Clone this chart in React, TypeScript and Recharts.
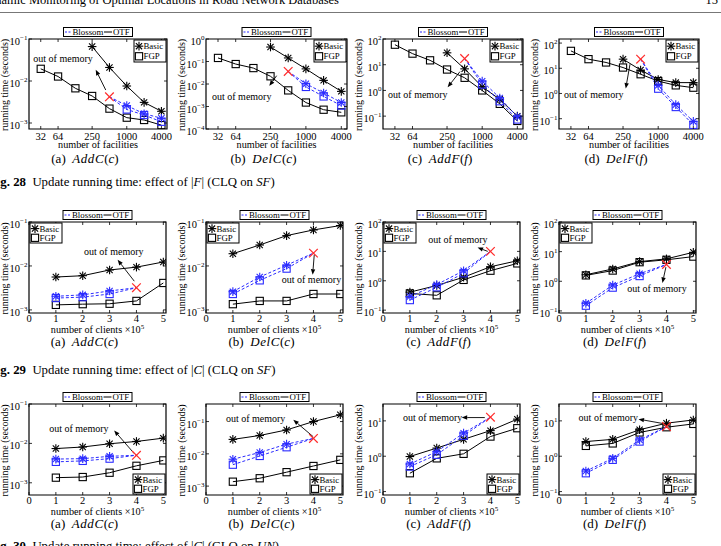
import React from 'react'
import { LineChart, Line, XAxis, YAxis, ReferenceArea, ReferenceLine, ReferenceDot } from 'recharts'

const SERIF = "'Liberation Serif', 'Times New Roman', serif"
const BLUE = '#2b2bff'
const RED = '#ff2a2a'

const FACILITIES = [32, 64, 128, 250, 500, 1000, 2000, 4000]
const FACILITY_TICKS = [32, 64, 250, 1000, 4000]
const CLIENTS = [1, 2, 3, 4, 5]
const CLIENT_TICKS = [0, 1, 2, 3, 4, 5]

type Val = number | null
const n = null

// Fig. 28: effect of |F| (SF)
const f28aBasicOtf: Val[] = [n, n, n, 0.066, 0.021, 0.0076, 0.0031, 0.0019]
const f28aFgpOtf: Val[] = [0.0195, 0.0128, 0.0067, 0.0044, 0.0022, 0.00134, 0.00118, 0.00089]
const f28aBasicBlossom: Val[] = [n, n, n, n, 0.0042, 0.0026, 0.00166, 0.0013]
const f28aFgpBlossom: Val[] = [n, n, n, n, 0.0042, 0.0021, 0.00155, 0.00107]

const f28bBasicOtf: Val[] = [n, n, n, 0.44, 0.144, 0.047, 0.0145, 0.0047]
const f28bFgpOtf: Val[] = [0.144, 0.077, 0.051, 0.022, 0.0052, 0.0015, 0.00072, 0.00055]
const f28bBasicBlossom: Val[] = [n, n, n, n, 0.036, 0.0103, 0.004, 0.0015]
const f28bFgpBlossom: Val[] = [n, n, n, n, 0.036, 0.0074, 0.0028, 0.0011]

const f28cBasicOtf: Val[] = [n, n, n, 29, 6.9, 1.38, 0.45, 0.1]
const f28cFgpOtf: Val[] = [60, 27, 14.8, 6.5, 3.1, 1.0, 0.3, 0.065]
const f28cBasicBlossom: Val[] = [n, n, n, n, 17.4, 2.3, 0.51, 0.095]
const f28cFgpBlossom: Val[] = [n, n, n, n, 17.4, 1.7, 0.38, 0.074]

const f28dBasicOtf: Val[] = [n, n, n, 23, 8.5, 3.6, 2.7, 2.7]
const f28dFgpOtf: Val[] = [49, 23, 17, 10.7, 5.8, 3.1, 2.1, 1.7]
const f28dBasicBlossom: Val[] = [n, n, n, n, 23, 2.1, 0.36, 0.078]
const f28dFgpBlossom: Val[] = [n, n, n, n, 23, 1.55, 0.29, 0.057]

// Fig. 29: effect of |C| (SF)
const f29aBasicOtf: Val[] = [0.0056, 0.006, 0.0081, 0.0094, 0.0123]
const f29aFgpOtf: Val[] = [0.0013, 0.00135, 0.00138, 0.0016, 0.0041]
const f29aBasicBlossom: Val[] = [0.00204, 0.0022, 0.0027, 0.0032, n]
const f29aFgpBlossom: Val[] = [0.00186, 0.00195, 0.0023, 0.0032, n]

const f29bBasicOtf: Val[] = [0.019, 0.03, 0.049, 0.066, 0.083]
const f29bFgpOtf: Val[] = [0.00135, 0.0016, 0.0016, 0.0023, 0.0023]
const f29bBasicBlossom: Val[] = [0.0026, 0.0056, 0.0104, 0.0196, n]
const f29bFgpBlossom: Val[] = [0.0023, 0.0047, 0.0087, 0.0196, n]

const f29cBasicOtf: Val[] = [0.41, 0.69, 1.32, 3.0, 4.8]
const f29cFgpOtf: Val[] = [0.37, 0.32, 1.07, 2.2, 3.9]
const f29cBasicBlossom: Val[] = [0.29, 0.74, 2.2, 10, n]
const f29cFgpBlossom: Val[] = [0.22, 0.6, 1.8, 10, n]

const f29dBasicOtf: Val[] = [1.66, 2.6, 4.6, 5.7, 9.5]
const f29dFgpOtf: Val[] = [1.58, 2.3, 4.4, 5.3, 6.8]
const f29dBasicBlossom: Val[] = [0.18, 0.74, 1.8, 3.7, n]
const f29dFgpBlossom: Val[] = [0.15, 0.61, 1.5, 3.7, n]

// Fig. 30: effect of |C| (UN)
const f30aBasicOtf: Val[] = [0.0074, 0.0081, 0.0098, 0.0112, 0.0136]
const f30aFgpOtf: Val[] = [0.00135, 0.0014, 0.0018, 0.0027, 0.0037]
const f30aBasicBlossom: Val[] = [0.004, 0.0041, 0.0047, 0.005, n]
const f30aFgpBlossom: Val[] = [0.0034, 0.0036, 0.0041, 0.005, n]

const f30bBasicOtf: Val[] = [0.028, 0.037, 0.055, 0.1, 0.162]
const f30bFgpOtf: Val[] = [0.00137, 0.00175, 0.0027, 0.0042, 0.0065]
const f30bBasicBlossom: Val[] = [0.0068, 0.011, 0.02, 0.03, n]
const f30bFgpBlossom: Val[] = [0.0046, 0.0086, 0.016, 0.03, n]

const f30cBasicOtf: Val[] = [0.98, 1.7, 3.0, 5.3, 11.2]
const f30cFgpOtf: Val[] = [0.33, 0.87, 1.17, 3.6, 6.2]
const f30cBasicBlossom: Val[] = [0.6, 1.35, 4.5, 12.7, n]
const f30cFgpBlossom: Val[] = [0.51, 1.1, 3.8, 12.7, n]

const f30dBasicOtf: Val[] = [2.6, 3.0, 5.6, 8.6, 10.6]
const f30dFgpOtf: Val[] = [1.96, 2.3, 4.7, 6.6, 8.2]
const f30dBasicBlossom: Val[] = [0.38, 0.87, 2.9, 6.9, n]
const f30dFgpBlossom: Val[] = [0.33, 0.79, 2.6, 6.9, n]

type Note = { tx: number; ty: number; from: [number, number]; to: [number, number] }

type Panel = {
  id: string
  box: [number, number, number, number] // plot area: left, top, width, height
  logX: boolean
  yDomain: [number, number]
  yTicks: number[]
  series: [Val[], Val[], Val[], Val[]] // basic OTF, FGP OTF, basic Blossom, FGP Blossom
  note: Note
  legend: 'tr' | 'tl' | 'br'
  tag: string
  op: string
  arg: string
}

const D3 = [1e-3, 1e-2, 1e-1]

const PANELS: Panel[] = [
  { id: '28a', box: [29, 39, 138, 90], logX: true, yDomain: [7.2e-4, 0.1], yTicks: D3,
    series: [f28aBasicOtf, f28aFgpOtf, f28aBasicBlossom, f28aFgpBlossom],
    note: { tx: 23.8, ty: 0.034, from: [431, 0.0061], to: [289, 0.0185] }, legend: 'tr', tag: '(a)', op: 'AddC', arg: 'c' },
  { id: '28b', box: [206, 39, 141, 90], logX: true, yDomain: [1e-4, 1], yTicks: [1e-4, 1e-3, 1e-2, 1e-1, 1],
    series: [f28bBasicOtf, f28bFgpOtf, f28bBasicBlossom, f28bFgpBlossom],
    note: { tx: 25.3, ty: 0.0028, from: [318, 0.0234], to: [239, 0.0083] }, legend: 'tr', tag: '(b)', op: 'DelC', arg: 'c' },
  { id: '28c', box: [383, 39, 140, 90], logX: true, yDomain: [0.0316, 100], yTicks: [0.1, 1, 10, 100],
    series: [f28cBasicOtf, f28cFgpOtf, f28cBasicBlossom, f28cFgpBlossom],
    note: { tx: 24.4, ty: 0.69, from: [417, 5.4], to: [256, 1.33] }, legend: 'tr', tag: '(c)', op: 'AddF', arg: 'f' },
  { id: '28d', box: [559, 39, 140, 90], logX: true, yDomain: [0.039, 145], yTicks: [0.1, 1, 10, 100],
    series: [f28dBasicOtf, f28dFgpOtf, f28dBasicBlossom, f28dFgpBlossom],
    note: { tx: 24.4, ty: 0.91, from: [329, 14.5], to: [278, 1.58] }, legend: 'tr', tag: '(d)', op: 'DelF', arg: 'f' },

  { id: '29a', box: [29, 222, 137, 91], logX: false, yDomain: [8.5e-4, 0.1], yTicks: D3,
    series: [f29aBasicOtf, f29aFgpOtf, f29aBasicBlossom, f29aFgpBlossom],
    note: { tx: 2.05, ty: 0.0213, from: [3.92, 0.0045], to: [3.3, 0.0138] }, legend: 'tl', tag: '(a)', op: 'AddC', arg: 'c' },
  { id: '29b', box: [206, 222, 137, 91], logX: false, yDomain: [8.5e-4, 0.1], yTicks: D3,
    series: [f29bBasicOtf, f29bFgpOtf, f29bBasicBlossom, f29bFgpBlossom],
    note: { tx: 2.82, ty: 0.0049, from: [4.03, 0.018], to: [3.97, 0.0063] }, legend: 'tl', tag: '(b)', op: 'DelC', arg: 'c' },
  { id: '29c', box: [383, 222, 137, 91], logX: false, yDomain: [0.08, 100], yTicks: [0.1, 1, 10, 100],
    series: [f29cBasicOtf, f29cFgpOtf, f29cBasicBlossom, f29cFgpBlossom],
    note: { tx: 1.68, ty: 24.7, from: [3.9, 10], to: [3.52, 13.5] }, legend: 'tl', tag: '(c)', op: 'AddF', arg: 'f' },
  { id: '29d', box: [559, 222, 137, 91], logX: false, yDomain: [0.085, 100], yTicks: [0.1, 1, 10, 100],
    series: [f29dBasicOtf, f29dFgpOtf, f29dBasicBlossom, f29dFgpBlossom],
    note: { tx: 2.54, ty: 0.57, from: [3.98, 3.0], to: [3.85, 0.88] }, legend: 'tl', tag: '(d)', op: 'DelF', arg: 'f' },

  { id: '30a', box: [29, 404, 137, 91], logX: false, yDomain: [4.9e-4, 0.1], yTicks: D3,
    series: [f30aBasicOtf, f30aFgpOtf, f30aBasicBlossom, f30aFgpBlossom],
    note: { tx: 0.75, ty: 0.0234, from: [3.92, 0.0055], to: [3.17, 0.0213] }, legend: 'br', tag: '(a)', op: 'AddC', arg: 'c' },
  { id: '30b', box: [206, 404, 137, 91], logX: false, yDomain: [5.3e-4, 0.35], yTicks: D3,
    series: [f30bBasicOtf, f30bFgpOtf, f30bBasicBlossom, f30bFgpBlossom],
    note: { tx: 0.74, ty: 0.127, from: [3.99, 0.034], to: [3.25, 0.113] }, legend: 'br', tag: '(b)', op: 'DelC', arg: 'c' },
  { id: '30c', box: [383, 404, 137, 91], logX: false, yDomain: [0.08, 30], yTicks: [0.1, 1, 10],
    series: [f30cBasicOtf, f30cFgpOtf, f30cBasicBlossom, f30cFgpBlossom],
    note: { tx: 0.74, ty: 12, from: [3.79, 12.4], to: [2.93, 12.4] }, legend: 'br', tag: '(c)', op: 'AddF', arg: 'f' },
  { id: '30d', box: [559, 404, 137, 91], logX: false, yDomain: [0.08, 30], yTicks: [0.1, 1, 10],
    series: [f30dBasicOtf, f30dFgpOtf, f30dBasicBlossom, f30dFgpBlossom],
    note: { tx: 0.73, ty: 12, from: [3.95, 8.2], to: [2.96, 11.2] }, legend: 'br', tag: '(d)', op: 'DelF', arg: 'f' },
]

const YW = 36
const MT = 6
const MR = 6
const XH = 20

function Star({ cx, cy, color }: { cx: number; cy: number; color: string }) {
  const r = 4.3
  const d = r * 0.72
  return (
    <g stroke={color} strokeWidth={1.1}>
      <line x1={cx - r} y1={cy} x2={cx + r} y2={cy} />
      <line x1={cx} y1={cy - r} x2={cx} y2={cy + r} />
      <line x1={cx - d} y1={cy - d} x2={cx + d} y2={cy + d} />
      <line x1={cx - d} y1={cy + d} x2={cx + d} y2={cy - d} />
    </g>
  )
}

function Square({ cx, cy, color }: { cx: number; cy: number; color: string }) {
  return <rect x={cx - 3.6} y={cy - 3.6} width={7.2} height={7.2} fill="none" stroke={color} strokeWidth={1.1} />
}

function Cross({ cx, cy }: { cx: number; cy: number }) {
  const r = 4.3
  return (
    <g stroke={RED} strokeWidth={1.2}>
      <line x1={cx - r} y1={cy - r} x2={cx + r} y2={cy + r} />
      <line x1={cx - r} y1={cy + r} x2={cx + r} y2={cy - r} />
    </g>
  )
}

const makeDot = (kind: 'star' | 'square' | 'cross', color: string, skipX?: number) => (d: any) => {
  const k = `m${d.index}`
  if (d.cx == null || d.cy == null || d.value == null || (skipX != null && d.payload?.x === skipX)) return <g key={k} />
  if (kind === 'star') return <Star key={k} cx={d.cx} cy={d.cy} color={color} />
  if (kind === 'square') return <Square key={k} cx={d.cx} cy={d.cy} color={color} />
  return <Cross key={k} cx={d.cx} cy={d.cy} />
}

function Arrow(props: any) {
  const { x1, y1, x2, y2 } = props
  const a = Math.atan2(y2 - y1, x2 - x1)
  const L = 5.5
  const W = 2.2
  const bx = x2 - L * Math.cos(a)
  const by = y2 - L * Math.sin(a)
  const pts = `${x2},${y2} ${bx - W * Math.sin(a)},${by + W * Math.cos(a)} ${bx + W * Math.sin(a)},${by - W * Math.cos(a)}`
  return (
    <g>
      <line x1={x1} y1={y1} x2={bx} y2={by} stroke="#000" strokeWidth={0.9} />
      <polygon points={pts} fill="#000" />
    </g>
  )
}

const supExp = (v: number) => {
  const e = Math.round(Math.log10(v))
  return e < 0 ? `\u2212${-e}` : `${e}`
}

function PanelChart({ p }: { p: Panel }) {
  const [left, top, w, h] = p.box
  const xs = p.logX ? FACILITIES : CLIENTS
  const oomAt = p.logX ? 500 : 4
  const [basicOtf, fgpOtf, basicBl, fgpBl] = p.series
  const data = xs.map((x, i) => ({
    x,
    basicOtf: basicOtf[i],
    fgpOtf: fgpOtf[i],
    basicBlossom: basicBl[i],
    fgpBlossom: fgpBl[i],
    oom: x === oomAt ? basicBl[i] : null,
  }))
  const xDomain: [number, number] = p.logX ? [20, 5000] : [0, 5.1]
  const plotL = YW
  const plotR = YW + w
  const plotT = MT
  const plotB = MT + h
  const labelDy = p.logX ? 7.5 : 6

  const xTick = (t: any) => (
    <g>
      <line x1={t.x} x2={t.x} y1={plotB} y2={plotB - 3} stroke="#000" strokeWidth={0.8} />
      <line x1={t.x} x2={t.x} y1={plotT} y2={plotT + 3} stroke="#000" strokeWidth={0.8} />
      <text x={t.x} y={t.y + labelDy} textAnchor="middle" fontSize={10.5} fontFamily={SERIF} fill="#000">
        {t.payload.value}
      </text>
    </g>
  )
  const yTick = (t: any) => (
    <g>
      <line x1={plotL} x2={plotL + 3} y1={t.y} y2={t.y} stroke="#000" strokeWidth={0.8} />
      <line x1={plotR} x2={plotR - 3} y1={t.y} y2={t.y} stroke="#000" strokeWidth={0.8} />
      <text x={t.x} y={t.y + 6} textAnchor="end" fontSize={10.5} fontFamily={SERIF} fill="#000">
        10<tspan dy={-5} fontSize={7}>{supExp(t.payload.value)}</tspan>
      </text>
    </g>
  )

  return (
    <div style={{ position: 'absolute', left: left - YW, top: top - MT }}>
      <LineChart width={YW + w + MR} height={MT + h + XH} data={data} margin={{ top: MT, right: MR, bottom: 0, left: 0 }}>
        <XAxis dataKey="x" type="number" scale={p.logX ? 'log' : 'linear'} domain={xDomain} allowDataOverflow
          ticks={p.logX ? FACILITY_TICKS : CLIENT_TICKS} interval={0} height={XH} tickSize={0} tickMargin={3}
          axisLine={false} tickLine={false} tick={xTick} />
        <YAxis type="number" scale="log" domain={p.yDomain} allowDataOverflow ticks={p.yTicks} interval={0}
          width={YW} tickSize={0} tickMargin={1.5} axisLine={false} tickLine={false} tick={yTick} />
        <ReferenceArea x1={xDomain[0]} x2={xDomain[1]} y1={p.yDomain[0]} y2={p.yDomain[1]}
          fill="none" fillOpacity={0} stroke="#000" strokeWidth={1.2} strokeOpacity={1} ifOverflow="visible" />
        <Line dataKey="basicOtf" stroke="#000" strokeWidth={1} dot={makeDot('star', '#000')} isAnimationActive={false} />
        <Line dataKey="fgpOtf" stroke="#000" strokeWidth={1} dot={makeDot('square', '#000')} isAnimationActive={false} />
        <Line dataKey="basicBlossom" stroke={BLUE} strokeWidth={1} strokeDasharray="3 2"
          dot={makeDot('star', BLUE, oomAt)} isAnimationActive={false} />
        <Line dataKey="fgpBlossom" stroke={BLUE} strokeWidth={1} strokeDasharray="3 2"
          dot={makeDot('square', BLUE, oomAt)} isAnimationActive={false} />
        <Line dataKey="oom" stroke="none" dot={makeDot('cross', RED)} isAnimationActive={false} />
        <ReferenceLine segment={[{ x: p.note.from[0], y: p.note.from[1] }, { x: p.note.to[0], y: p.note.to[1] }]}
          ifOverflow="visible" shape={Arrow} />
        <ReferenceDot x={p.note.tx} y={p.note.ty} r={0} ifOverflow="visible"
          shape={(s: any) => (
            <text x={s.cx} y={s.cy + 3.4} fontSize={10} fontFamily={SERIF} fill="#000">out of memory</text>
          )} />
      </LineChart>
    </div>
  )
}

function SeriesLegend({ x, y }: { x: number; y: number }) {
  return (
    <g>
      <rect x={x} y={y} width={69} height={9} fill="#fff" stroke="#000" strokeWidth={1} />
      <line x1={x + 1.5} x2={x + 7.5} y1={y + 4.5} y2={y + 4.5} stroke={BLUE} strokeDasharray="2 1.5" />
      <text x={x + 9} y={y + 7.6} fontSize={8.8}>Blossom</text>
      <line x1={x + 40.5} x2={x + 48.5} y1={y + 4.5} y2={y + 4.5} stroke="#000" />
      <text x={x + 49.5} y={y + 7.6} fontSize={8.8}>OTF</text>
    </g>
  )
}

function MarkerLegend({ x, y, w, h }: { x: number; y: number; w: number; h: number }) {
  const r1 = y + h * 0.28
  const r2 = y + h * 0.74
  return (
    <g>
      <rect x={x} y={y} width={w} height={h} fill="#fff" stroke="#000" strokeWidth={1} />
      <Star cx={x + 5} cy={r1} color="#000" />
      <text x={x + 9.5} y={r1 + 3} fontSize={8.8}>Basic</text>
      <Square cx={x + 5} cy={r2} color="#000" />
      <text x={x + 9.5} y={r2 + 3} fontSize={8.8}>FGP</text>
    </g>
  )
}

function Decorations({ p }: { p: Panel }) {
  const [left, top, w, h] = p.box
  const cx = left + w / 2
  const bottom = top + h
  const lw = 32
  const lh = p.legend === 'tr' ? 22 : 20
  const lx = p.legend === 'tl' ? left + 1 : left + w - lw - 1
  const ly = p.legend === 'br' ? bottom - lh - 1 : top + 1
  return (
    <g>
      <SeriesLegend x={cx - 34.5} y={top - 11.5} />
      <MarkerLegend x={lx} y={ly} w={lw} h={lh} />
      <text transform={`translate(${left - 21.5}, ${top + h / 2 + 1}) rotate(-90)`} textAnchor="middle" fontSize={10}>
        running time (seconds)
      </text>
      {p.logX ? (
        <text x={cx} y={bottom + 18.5} textAnchor="middle" fontSize={10.2}>number of facilities</text>
      ) : (
        <text x={cx} y={bottom + 20} textAnchor="middle" fontSize={10.2}>
          number of clients ×10<tspan dy={-4} fontSize={7}>5</tspan>
        </text>
      )}
      <text x={cx - 13} y={bottom + (p.logX ? 33.5 : 32.5)} textAnchor="middle" fontSize={13}>
        {p.tag}{'\u2002'}<tspan fontStyle="italic" letterSpacing={0.6}>{p.op}</tspan>(<tspan fontStyle="italic">{p.arg}</tspan>)
      </text>
    </g>
  )
}

function FigCaption({ y, num, set, data }: { y: number; num: number; set: string; data: string }) {
  return (
    <text x={-11} y={y} fontSize={12.8}>
      <tspan fontWeight="bold">Fig. {num}</tspan>
      {'\u2002'}Update running time: effect of |<tspan fontStyle="italic">{set}</tspan>| (CLQ on{' '}
      <tspan fontStyle="italic">{data}</tspan>)
    </text>
  )
}

export default function App() {
  return (
    <div style={{ position: 'absolute', left: 0, top: 0, width: 721, height: 546, overflow: 'hidden', background: '#fff' }}>
      {PANELS.map((p) => (
        <PanelChart key={p.id} p={p} />
      ))}
      <svg width={721} height={546} fontFamily={SERIF} fill="#000"
        style={{ position: 'absolute', left: 0, top: 0, pointerEvents: 'none' }}>
        <text x={-20} y={3.5} fontSize={12.5}>Dynamic Monitoring of Optimal Locations in Road Network Databases</text>
        <text x={718} y={3.5} fontSize={12.5} textAnchor="end">15</text>
        <line x1={0} x2={721} y1={12.5} y2={12.5} stroke="#777" strokeWidth={1} />
        {PANELS.map((p) => (
          <Decorations key={p.id} p={p} />
        ))}
        <FigCaption y={186} num={28} set="F" data="SF" />
        <FigCaption y={374} num={29} set="C" data="SF" />
        <FigCaption y={549.5} num={30} set="C" data="UN" />
      </svg>
    </div>
  )
}
